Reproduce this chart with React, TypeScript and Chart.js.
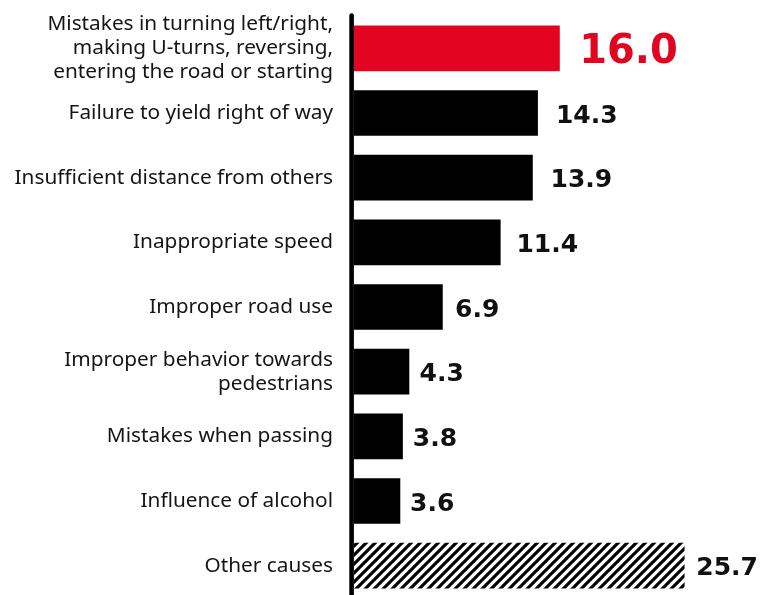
import React, { useEffect, useRef } from "react";
import { Chart, registerables } from "chart.js";

Chart.register(...registerables);

const categories: (string | string[])[] = [
  ["Mistakes in turning left/right,", "making U-turns, reversing,", "entering the road or starting"],
  "Failure to yield right of way",
  "Insufficient distance from others",
  "Inappropriate speed",
  "Improper road use",
  ["Improper behavior towards", "pedestrians"],
  "Mistakes when passing",
  "Influence of alcohol",
  "Other causes",
];

const values: number[] = [16.0, 14.3, 13.9, 11.4, 6.9, 4.3, 3.8, 3.6, 25.7];

const highlightIndex = 0;
const hatchedIndex = 8;

const RED = "#e30421";
const BLACK = "#000000";
const TEXT = "#151515";

function makeHatch(): CanvasPattern | string {
  const c = document.createElement("canvas");
  const s = 9;
  c.width = s;
  c.height = s;
  const g = c.getContext("2d");
  if (!g) return BLACK;
  g.fillStyle = "#ffffff";
  g.fillRect(0, 0, s, s);
  g.strokeStyle = "#000000";
  g.lineWidth = 3.1;
  g.lineCap = "square";
  const segs = [
    [-s, s, s, -s],
    [0, s, s, 0],
    [0, 2 * s, 2 * s, 0],
  ];
  segs.forEach(([a, b, c2, d]) => {
    g.beginPath();
    g.moveTo(a, b);
    g.lineTo(c2, d);
    g.stroke();
  });
  const p = g.createPattern(c, "repeat");
  return p || BLACK;
}

const axisLinePlugin = {
  id: "axisLine",
  afterDatasetsDraw(chart: any) {
    const { ctx } = chart;
    const xs = chart.scales.x;
    const x0 = xs.getPixelForValue(0) - 2.4;
    ctx.save();
    ctx.strokeStyle = BLACK;
    ctx.lineWidth = 4.6;
    ctx.lineCap = "round";
    ctx.beginPath();
    ctx.moveTo(x0, 15.6);
    ctx.lineTo(x0, chart.height + 5);
    ctx.stroke();
    ctx.restore();
  },
};

const valueLabelPlugin = {
  id: "valueLabels",
  afterDatasetsDraw(chart: any) {
    const { ctx } = chart;
    const meta = chart.getDatasetMeta(0);
    const xs = chart.scales.x;
    ctx.save();
    meta.data.forEach((bar: any, i: number) => {
      const v = values[i];
      const big = i === highlightIndex;
      const size = big ? 40 : 25;
      ctx.font = `bold ${size}px "DejaVu Sans"`;
      ctx.fillStyle = big ? RED : "#111111";
      ctx.textAlign = "left";
      ctx.textBaseline = "alphabetic";
      const text = v.toFixed(1);
      const w = ctx.measureText(text).width;
      let x = xs.getPixelForValue(v * 1.06) + 7;
      x = Math.min(x, chart.width - 5 - w);
      ctx.fillText(text, x, bar.y + size * 0.3645 + 0.5);
    });
    ctx.restore();
  },
};

export default function App() {
  const ref = useRef<HTMLCanvasElement | null>(null);

  useEffect(() => {
    if (!ref.current) return;
    const hatch = makeHatch();
    const colors = values.map((_, i) =>
      i === highlightIndex ? RED : i === hatchedIndex ? hatch : BLACK
    );
    const chart = new Chart(ref.current, {
      type: "bar",
      data: {
        labels: categories,
        datasets: [
          {
            data: values,
            backgroundColor: colors as any,
            borderWidth: 0,
            barPercentage: 0.705,
            categoryPercentage: 1,
          },
        ],
      },
      options: {
        indexAxis: "y",
        animation: false,
        responsive: false,
        devicePixelRatio: 1,
        layout: { padding: { top: 16, left: 0, right: 0, bottom: 0 } },
        plugins: {
          legend: { display: false },
          tooltip: { enabled: false },
        },
        scales: {
          x: { display: false, min: 0, max: 31.8 },
          y: {
            grid: { display: false, drawTicks: false },
            border: { display: false },
            ticks: {
              autoSkip: false,
              padding: 21,
              color: TEXT,
              font: { family: "Noto Sans", size: 20.8, lineHeight: 1.15 },
            },
            afterFit: (s: any) => {
              s.width = 354;
              s.paddingTop = 0;
              s.paddingBottom = 0;
            },
          },
        },
      },
      plugins: [axisLinePlugin, valueLabelPlugin],
    });
    return () => chart.destroy();
  }, []);

  return (
    <div style={{ position: "absolute", left: 0, top: 0, width: 763, height: 598 }}>
      <canvas ref={ref} width={763} height={598} />
    </div>
  );
}
